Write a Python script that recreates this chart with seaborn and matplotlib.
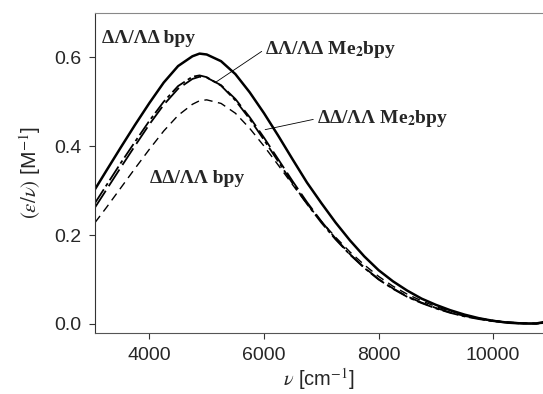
import matplotlib
matplotlib.use("Agg")
import matplotlib.pyplot as plt
import seaborn as sns
import pandas as pd

# wavenumber grid [cm^-1]
wavenumber = [3050, 3250, 3500, 3750, 4000, 4250, 4500, 4750, 4875, 5000, 5250, 5500,
              5750, 6000, 6250, 6500, 6750, 7000, 7250, 7500, 7750, 8000, 8250,
              8500, 8750, 9000, 9250, 9500, 9750, 10000, 10250, 10500, 10750, 10870]

# (eps/nu) [M^-1]
dl_bpy = [0.303, 0.345, 0.397, 0.448, 0.497, 0.543, 0.580, 0.602, 0.608, 0.606, 0.591, 0.562,
          0.521, 0.474, 0.423, 0.370, 0.318, 0.272, 0.228, 0.188, 0.152, 0.121, 0.096,
          0.075, 0.057, 0.043, 0.031, 0.021, 0.013, 0.007, 0.003, 0.001, 0.001, 0.004]
dl_me2bpy = [0.272, 0.312, 0.362, 0.410, 0.457, 0.500, 0.535, 0.556, 0.559, 0.555, 0.536, 0.503,
             0.461, 0.414, 0.365, 0.316, 0.270, 0.228, 0.190, 0.156, 0.126, 0.100, 0.079,
             0.061, 0.047, 0.035, 0.025, 0.017, 0.011, 0.006, 0.003, 0.001, 0.001, 0.002]
dd_me2bpy = [0.262, 0.302, 0.352, 0.401, 0.449, 0.493, 0.529, 0.551, 0.556, 0.554, 0.537, 0.506,
             0.465, 0.419, 0.370, 0.321, 0.274, 0.231, 0.192, 0.157, 0.127, 0.101, 0.080,
             0.062, 0.048, 0.036, 0.026, 0.018, 0.012, 0.007, 0.004, 0.002, 0.001, 0.002]
dd_bpy = [0.228, 0.262, 0.306, 0.350, 0.393, 0.434, 0.469, 0.494, 0.502, 0.504, 0.496, 0.474,
          0.440, 0.400, 0.357, 0.313, 0.270, 0.231, 0.195, 0.162, 0.133, 0.107, 0.085,
          0.067, 0.052, 0.039, 0.029, 0.020, 0.013, 0.008, 0.004, 0.002, 0.001, 0.002]

x_ticks = [4000, 6000, 8000, 10000]
y_ticks = [0.0, 0.2, 0.4, 0.6]

sns.set_style("ticks")
plt.rcParams["font.family"] = ["Liberation Sans", "DejaVu Sans"]
plt.rcParams["mathtext.fontset"] = "stix"

fig = plt.figure(figsize=(5.43, 3.94), dpi=100)
ax = fig.add_axes([95 / 543, 1 - 333.3 / 394, 1 - 95 / 543, (333.3 - 12.7) / 394])

series = [
    (dl_bpy, "-", 1.8),
    (dl_me2bpy, (0, (9, 2, 2, 2)), 1.3),
    (dd_me2bpy, (0, (11, 3)), 1.3),
    (dd_bpy, (0, (6, 4)), 1.0),
]
for vals, ls, lw in series:
    df = pd.DataFrame({"nu": wavenumber, "val": vals})
    sns.lineplot(data=df, x="nu", y="val", ax=ax, color="black",
                 linestyle=ls, linewidth=lw)

ax.set_xlim(3050, 10870)
ax.set_ylim(-0.021, 0.70)
ax.set_xticks(x_ticks)
ax.set_yticks(y_ticks)
ax.set_yticklabels([f"{t:.1f}" for t in y_ticks])
ax.tick_params(labelsize=14, length=4, width=0.8, color="#333333", pad=6)
for s in ["left", "bottom", "top"]:
    ax.spines[s].set_linewidth(0.8)
    ax.spines[s].set_color("#333333")
ax.spines["top"].set_color("#888888")
ax.spines["bottom"].set_color("#555555")
ax.spines["right"].set_visible(False)

ax.set_xlabel(r"$\nu$ [cm$^{-1}$]", fontsize=14.5, labelpad=1)
ax.set_ylabel(r"$(\varepsilon/\nu)$ [M$^{-1}$]", fontsize=15, labelpad=8)

lab = dict(fontsize=14, fontweight="bold", family=["Liberation Serif", "DejaVu Serif"],
           va="center", ha="left")
ax.text(3180, 0.642, "ΔΛ/ΛΔ bpy", **lab)
ax.text(6020, 0.617, r"ΔΛ/ΛΔ Me$_\mathbf{2}$bpy", **lab)
ax.text(6920, 0.462, r"ΔΔ/ΛΛ Me$_\mathbf{2}$bpy", **lab)
ax.text(4010, 0.327, "ΔΔ/ΛΛ bpy", **lab)

ax.plot([5960, 5150], [0.613, 0.543], color="black", lw=0.6)
ax.plot([6860, 6020], [0.460, 0.437], color="black", lw=0.6)

fig.savefig("out.png", dpi=100)
